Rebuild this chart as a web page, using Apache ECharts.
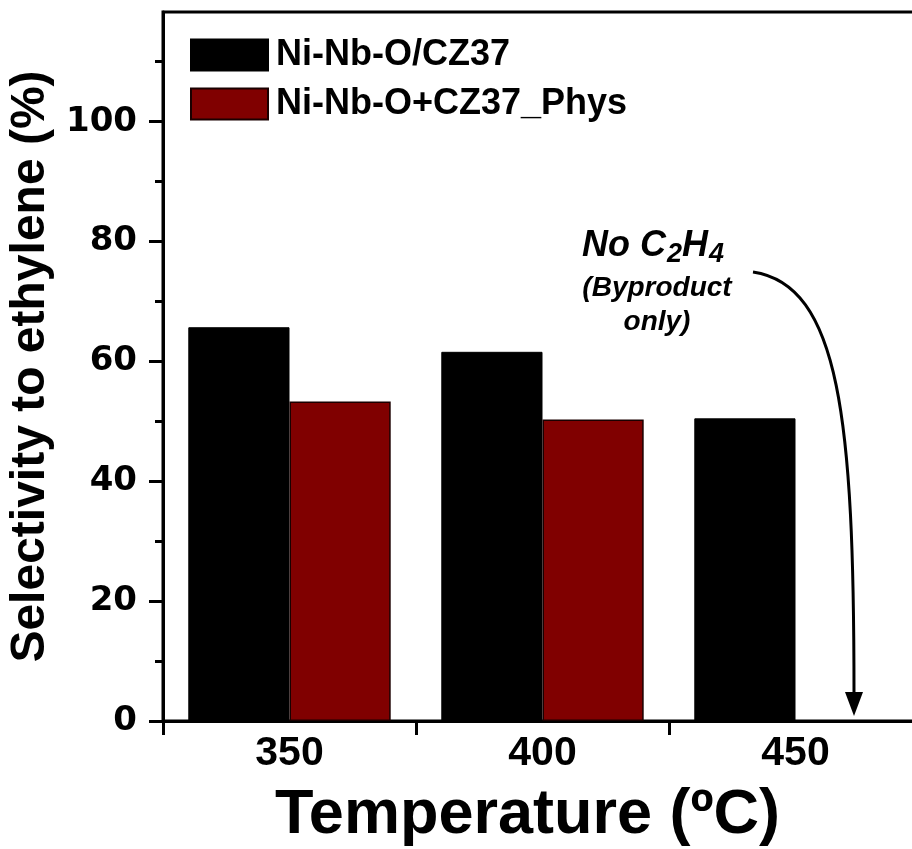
<!DOCTYPE html>
<html>
<head>
<meta charset="utf-8">
<script src="https://cdn.jsdelivr.net/npm/echarts@6/dist/echarts.min.js"></script>
<style>html,body{margin:0;padding:0;background:#fff}#c{width:912px;height:849px}</style>
</head>
<body>
<div id="c"></div>
<script>
var categories = ['350', '400', '450'];
var seriesNames = ['Ni-Nb-O/CZ37', 'Ni-Nb-O+CZ37_Phys'];
var impregnated = [65.7, 61.6, 50.5];
var physical = [53.3, 50.3, null];
var yLabelValues = [0, 20, 40, 60, 80, 100];
var yMinorValues = [10, 30, 50, 70, 90, 110];
var yMax = 118.3;

var chart = echarts.init(document.getElementById('c'), null, {renderer: 'canvas'});
var F = '"Liberation Sans", Arial, sans-serif';
var option = {
  animation: false,
  backgroundColor: '#fff',
  grid: {left: 163, right: -10, top: 12, bottom: 128, show: true, borderColor: '#000', borderWidth: 3,
    containLabel: false, outerBoundsMode: 'none'},
  legend: {
    show: true, orient: 'vertical', left: 190, top: 37, padding: 0,
    itemWidth: 77, itemHeight: 31, itemGap: 13, icon: 'rect',
    textStyle: {fontFamily: F, fontWeight: 'bold', fontSize: 36, color: '#000', padding: [0, 0, 0, 3]},
    data: seriesNames
  },
  xAxis: {
    type: 'category', data: categories,
    axisLine: {lineStyle: {color: '#000', width: 3}},
    axisTick: {show: true, length: 14, inside: false, lineStyle: {color: '#000', width: 3}},
    axisLabel: {fontFamily: F, fontWeight: 'bold', fontSize: 41, color: '#000', margin: 12},
    name: 'Temperature (ºC)', nameLocation: 'middle', nameGap: 63,
    nameTextStyle: {fontFamily: F, fontWeight: 'bold', fontSize: 63, color: '#000', padding: [0, 30, 0, 0]}
  },
  yAxis: [{
    type: 'value', min: 0, max: yMax, interval: 20,
    axisLine: {show: true, lineStyle: {color: '#000', width: 3}},
    axisTick: {show: true, length: 14, customValues: yLabelValues, lineStyle: {color: '#000', width: 3}},
    axisLabel: {customValues: yLabelValues, fontFamily: '"DejaVu Sans", sans-serif', fontWeight: 'bold', fontSize: 34, color: '#000', margin: 26},
    splitLine: {show: false},
    name: 'Selectivity to ethylene (%)', nameLocation: 'middle', nameGap: 106, nameRotate: 90,
    nameTextStyle: {fontFamily: F, fontWeight: 'bold', fontSize: 48, color: '#000'}
  }, {
    type: 'value', min: 0, max: yMax, interval: 20, position: 'left',
    axisLine: {show: false},
    axisTick: {show: true, length: 8, customValues: yMinorValues, lineStyle: {color: '#000', width: 3}},
    axisLabel: {show: false}, splitLine: {show: false}
  }],
  series: [{
    name: seriesNames[0], type: 'bar', data: impregnated, barWidth: '40%', barGap: '0%',
    itemStyle: {color: '#000000', borderColor: '#000', borderWidth: 1}
  }, {
    name: seriesNames[1], type: 'bar', data: physical, barWidth: '40%', barGap: '0%',
    itemStyle: {color: '#800000', borderColor: '#1a0000', borderWidth: 1.5}
  }],
  graphic: [
    {type: 'text', left: 582, top: 228, style: {
      text: '{b|No C}{s|2}{b|H}{s|4}',
      rich: {
        b: {fontFamily: F, fontWeight: 'bold', fontStyle: 'italic', fontSize: 36, fill: '#000'},
        s: {fontFamily: F, fontWeight: 'bold', fontStyle: 'italic', fontSize: 27, fill: '#000', padding: [18, 0, 0, 1]}
      }
    }},
    {type: 'text', x: 657, y: 274, style: {text: '(Byproduct', textAlign: 'center', fontFamily: F, fontWeight: 'bold', fontStyle: 'italic', fontSize: 28, fill: '#000'}},
    {type: 'text', x: 657, y: 308, style: {text: 'only)', textAlign: 'center', fontFamily: F, fontWeight: 'bold', fontStyle: 'italic', fontSize: 28, fill: '#000'}},
    {type: 'bezierCurve', shape: {x1: 753, y1: 272, x2: 854, y2: 694, cpx1: 840, cpy1: 285, cpx2: 854, cpy2: 420},
      style: {stroke: '#000', lineWidth: 3, fill: null}},
    {type: 'polygon', shape: {points: [[845, 692], [863, 692], [854, 716]]}, style: {fill: '#000'}}
  ]
};
chart.setOption(option);
</script>
</body>
</html>
